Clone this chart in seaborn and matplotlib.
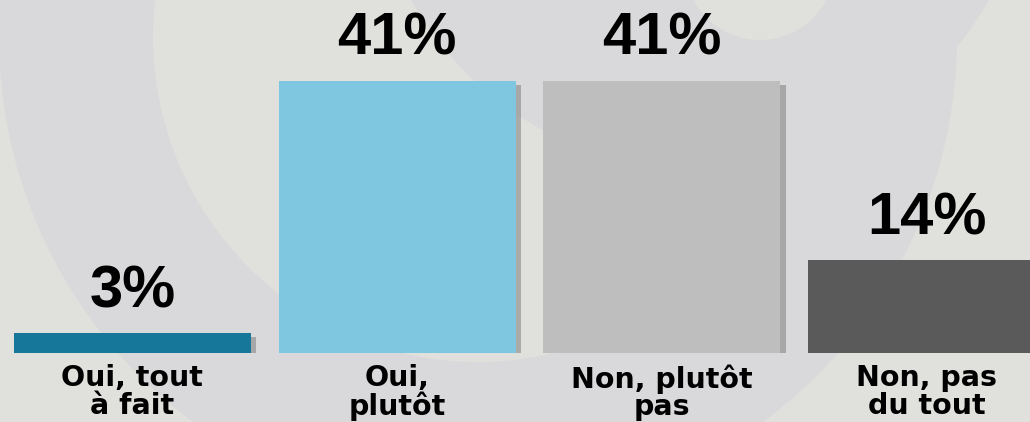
import matplotlib
matplotlib.use('Agg')
import matplotlib.pyplot as plt
import matplotlib.patheffects as pe
from matplotlib.patches import Circle, Wedge
import pandas as pd
import seaborn as sns

categories = ['Oui, tout\nà fait', 'Oui,\nplutôt', 'Non, plutôt\npas', 'Non, pas\ndu tout']
values = [3, 41, 41, 14]
colors = ['#17779b', '#7fc6e1', '#bebebe', '#5a5a5a']

BG = '#e0e0dc'
RING = '#d9d9db'

sns.set_theme(style='white')
plt.rcParams['font.family'] = ['DejaVu Sans']

df = pd.DataFrame({'cat': categories, 'val': values})

fig = plt.figure(figsize=(10.3, 4.22), dpi=100, facecolor=BG)

# faint logo watermark behind the chart (pixel coords)
bg = fig.add_axes([0, 0, 1, 1], zorder=-1)
bg.set_xlim(0, 1030)
bg.set_ylim(422, 0)
bg.axis('off')
bg.add_patch(Wedge((478, 37), 479, 0, 360, width=154, color=RING, lw=0))
bg.add_patch(Circle((700, -160), 330, color=RING, lw=0))
bg.add_patch(Circle((760, -35), 75, color=BG, lw=0))

ax = fig.add_axes([0, 69 / 422, 1, 353 / 422])
ax.set_facecolor('none')
sns.barplot(data=df, x='cat', y='val', hue='cat', palette=colors,
            width=0.895, legend=False, ax=ax, saturation=1)

shadow = [pe.SimplePatchShadow(offset=(4, -3), shadow_rgbFace='#777777', alpha=0.5), pe.Normal()]
for bar in ax.patches:
    bar.set_path_effects(shadow)
    bar.set_linewidth(0)

for cont in ax.containers:
    ax.bar_label(cont, fmt='{:.0f}%', padding=10, fontsize=43,
                 fontweight='bold', family='Liberation Sans', color='black')

ax.set_xlim(-0.5, 3.39)
ax.set_ylim(0, 353 / 6.64)
ax.set_xlabel('')
ax.set_ylabel('')
ax.set_yticks([])
ax.tick_params(axis='x', length=0, pad=8)
for lbl in ax.get_xticklabels():
    lbl.set_fontsize(20.5)
    lbl.set_fontweight('bold')
    lbl.set_linespacing(0.98)
    lbl.set_color('black')
for s in ax.spines.values():
    s.set_visible(False)

fig.savefig('out.png', dpi=100, facecolor=BG)
